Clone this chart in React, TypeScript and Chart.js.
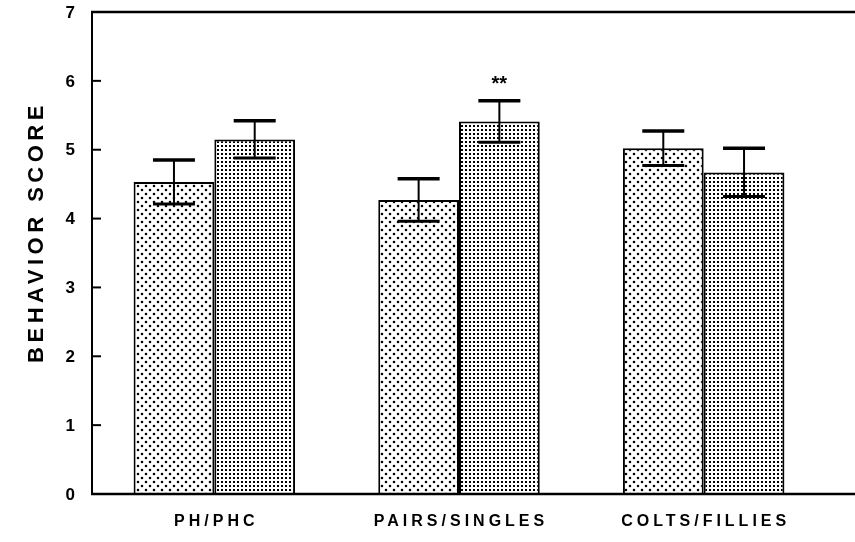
import React, { useEffect, useRef } from "react";
import { Chart, registerables } from "chart.js";

Chart.register(...registerables);

const categories = ["PH/PHC", "PAIRS/SINGLES", "COLTS/FILLIES"];
const lightMeans = [4.53, 4.27, 5.02];
const lightErrors = [0.32, 0.31, 0.25];
const denseMeans = [5.15, 5.41, 4.67];
const denseErrors = [0.27, 0.3, 0.35];
const denseMarks = ["", "**", ""];
const yMin = 0;
const yMax = 7;
const yTitle = "BEHAVIOR SCORE";

const FONT = "'Liberation Sans', Arial, Helvetica, sans-serif";

function makePattern(kind: "light" | "dense"): CanvasPattern | string {
  const c = document.createElement("canvas");
  const size = kind === "light" ? 8 : 4;
  c.width = size;
  c.height = size;
  const g = c.getContext("2d");
  if (!g) return "#ccc";
  g.fillStyle = "#fff";
  g.fillRect(0, 0, size, size);
  g.fillStyle = "#000";
  if (kind === "light") {
    g.beginPath();
    g.arc(2, 2, 1.3, 0, Math.PI * 2);
    g.arc(6, 6, 1.3, 0, Math.PI * 2);
    g.fill();
  } else {
    g.fillRect(1, 1, 2, 2);
  }
  const p = g.createPattern(c, "repeat");
  return p || "#ccc";
}

const errorsBySet = [lightErrors, denseErrors];
const meansBySet = [lightMeans, denseMeans];

const decorPlugin = {
  id: "decor",
  afterDatasetsDraw(chart: any) {
    const ctx = chart.ctx as CanvasRenderingContext2D;
    const y = chart.scales.y;
    ctx.save();
    ctx.strokeStyle = "#000";
    chart.data.datasets.forEach((_ds: any, di: number) => {
      const meta = chart.getDatasetMeta(di);
      meta.data.forEach((el: any, i: number) => {
        const m = meansBySet[di][i];
        const e = errorsBySet[di][i];
        const yTop = y.getPixelForValue(m + e);
        const yBot = y.getPixelForValue(m - e);
        const x = el.x;
        const half = 21;
        ctx.lineWidth = 2;
        ctx.beginPath();
        ctx.moveTo(x, yTop);
        ctx.lineTo(x, yBot);
        ctx.stroke();
        ctx.lineWidth = 3.5;
        ctx.beginPath();
        ctx.moveTo(x - half, yTop);
        ctx.lineTo(x + half, yTop);
        ctx.stroke();
        ctx.lineWidth = 3;
        ctx.beginPath();
        ctx.moveTo(x - half, yBot);
        ctx.lineTo(x + half, yBot);
        ctx.stroke();
        if (di === 1 && denseMarks[i]) {
          ctx.fillStyle = "#000";
          ctx.font = `bold 20px ${FONT}`;
          ctx.textAlign = "center";
          ctx.textBaseline = "middle";
          ctx.fillText(denseMarks[i], x, yTop - 16);
        }
      });
    });
    ctx.restore();
  },
  afterDraw(chart: any) {
    const ctx = chart.ctx as CanvasRenderingContext2D;
    const { left, top, bottom } = chart.chartArea;
    const W = chart.width;
    const y = chart.scales.y;
    const x = chart.scales.x;
    ctx.save();
    ctx.strokeStyle = "#000";
    ctx.lineWidth = 2;
    ctx.beginPath();
    ctx.moveTo(left, top);
    ctx.lineTo(left, bottom);
    ctx.stroke();
    ctx.lineWidth = 2.5;
    ctx.beginPath();
    ctx.moveTo(left - 1, top);
    ctx.lineTo(W, top);
    ctx.stroke();
    ctx.beginPath();
    ctx.moveTo(left - 1, bottom);
    ctx.lineTo(W, bottom);
    ctx.stroke();
    ctx.lineWidth = 2;
    for (let v = yMin + 1; v < yMax; v++) {
      const py = y.getPixelForValue(v);
      ctx.beginPath();
      ctx.moveTo(left, py);
      ctx.lineTo(left + 9, py);
      ctx.stroke();
    }
    ctx.fillStyle = "#000";
    // y tick labels
    ctx.font = `bold 17px ${FONT}`;
    ctx.textAlign = "right";
    ctx.textBaseline = "middle";
    y.ticks.forEach((t: any) => {
      ctx.fillText(String(t.value), left - 17, y.getPixelForValue(t.value) + 1);
    });
    // category labels
    ctx.font = `bold 16px ${FONT}`;
    (ctx as any).letterSpacing = "4px";
    ctx.textAlign = "center";
    categories.forEach((c, i) => {
      ctx.fillText(c, x.getPixelForValue(i) + 2, 522);
    });
    ctx.translate(37, 232);
    ctx.rotate(-Math.PI / 2);
    ctx.font = `bold 22px ${FONT}`;
    (ctx as any).letterSpacing = "4.5px";
    ctx.fillText(yTitle, 0, 0);
    ctx.restore();
  },
};

export default function App() {
  const ref = useRef<HTMLCanvasElement | null>(null);
  useEffect(() => {
    if (!ref.current) return;
    const chart = new Chart(ref.current, {
      type: "bar",
      data: {
        labels: categories,
        datasets: [
          {
            label: "A",
            data: lightMeans,
            backgroundColor: makePattern("light") as any,
            borderColor: "#000",
            borderWidth: 2,
            borderSkipped: "bottom",
            categoryPercentage: 0.66,
            barPercentage: 1.0,
          },
          {
            label: "B",
            data: denseMeans,
            backgroundColor: makePattern("dense") as any,
            borderColor: "#000",
            borderWidth: 2,
            borderSkipped: "bottom",
            categoryPercentage: 0.66,
            barPercentage: 1.0,
          },
        ],
      },
      options: {
        animation: false,
        responsive: false,
        devicePixelRatio: 1,
        layout: { padding: { top: 12, right: 29, left: 0, bottom: 0 } },
        plugins: {
          legend: { display: false },
          tooltip: { enabled: false },
          title: { display: false },
        },
        scales: {
          x: {
            grid: { display: false, drawTicks: false },
            border: { display: false },
            ticks: { display: false },
            afterFit: (s: any) => {
              s.height = 48;
            },
          },
          y: {
            min: yMin,
            max: yMax,
            grid: { display: false, drawTicks: false, tickLength: 0 },
            border: { display: false },
            ticks: { stepSize: 1, display: false, padding: 0 },
            afterFit: (s: any) => {
              s.width = 92;
            },
          },
        },
      },
      plugins: [decorPlugin],
    });
    return () => chart.destroy();
  }, []);
  return (
    <div style={{ position: "fixed", left: 0, top: 0, width: 855, height: 542, background: "#fff" }}>
      <canvas ref={ref} width={855} height={542} style={{ display: "block" }} />
    </div>
  );
}
